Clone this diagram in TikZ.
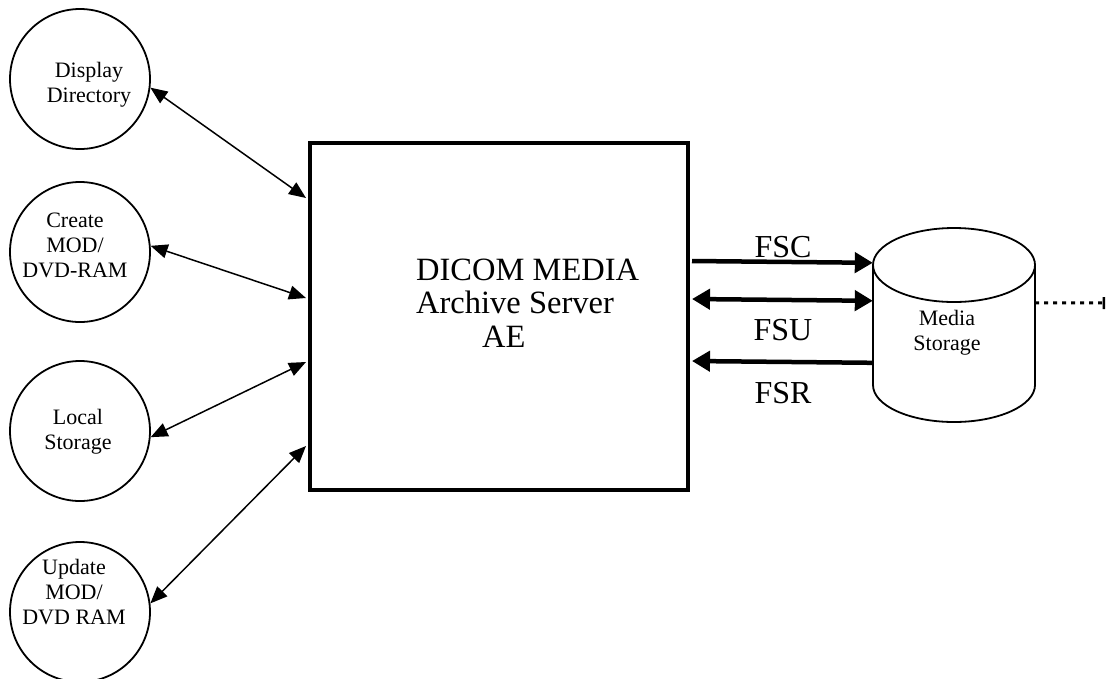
\documentclass[tikz,border=0pt]{standalone}
\usepackage{fontspec}
\setmainfont{Liberation Serif}
\usetikzlibrary{arrows.meta,calc}
\tikzset{
  client/.style={draw,circle,line width=1.8pt,minimum size=140pt,inner sep=0pt},
  ctext/.style={align=center,font=\fontsize{22}{25}\selectfont},
  thinlink/.style={line width=1.5pt,{Triangle[length=17pt,width=14pt]}-{Triangle[length=17pt,width=14pt]}},
  thickarrow/.style={line width=4.5pt,-{Triangle[length=18pt,width=20pt]}},
  thickboth/.style={line width=4.5pt,{Triangle[length=18pt,width=20pt]}-{Triangle[length=18pt,width=20pt]}},
  flabel/.style={font=\fontsize{32}{32}\selectfont,inner sep=0pt},
}
\begin{document}
\begin{tikzpicture}[x=1pt,y=-1pt]
\useasboundingbox (0,0) rectangle (1107,678);
% clients
\node[client,label={[ctext,shift={(9,6)}]center:{Display\\Directory}}] (dd) at (80,79) {};
\node[client,label={[ctext,shift={(-5,-7)}]center:{Create\\MOD/\\DVD-RAM}}] (cm) at (80,252) {};
\node[client,label={[ctext,shift={(-2,1)}]center:{Local\\Storage}}] (ls) at (80,431) {};
\node[client,label={[ctext,shift={(-6,-20)}]center:{Update\\MOD/\\DVD RAM}}] (um) at (80,612) {};
% AE box
\node[draw,line width=4pt,minimum width=378pt,minimum height=347pt,inner sep=0pt] (ae) at (499,316.5) {};
\node[align=left,anchor=west,inner sep=0pt,font=\fontsize{32.5}{33.5}\selectfont] (aetext) at (416,303) {DICOM MEDIA\\Archive Server\\\hspace*{66pt}AE};
% media storage cylinder
\node[minimum width=162pt,minimum height=194pt,inner sep=0pt] (ms) at (954,325) {};
\draw[line width=1.8pt] (954,265) ellipse [x radius=81,y radius=37];
\draw[line width=1.8pt] (873,265) -- (873,385) arc[start angle=180,end angle=360,x radius=81,y radius=-37] -- (1035,265);
\node[ctext] (mstext) at (947,333) {Media\\Storage};
% connectors left
\draw[thinlink] (dd.-7) -- ($(ae.north west)+(-2,57)$);
\draw[thinlink] (cm.5) -- ($(ae.north west)+(-2,157)$);
\draw[thinlink] (ls.-5) -- ($(ae.north west)+(-2,221)$);
\draw[thinlink] (um.7) -- ($(ae.north west)+(-2,305)$);
% connectors right
\draw[thickarrow] ($(ae.north east)+(2,120)$) -- ($(ms.north west)+(0,35)$);
\draw[thickboth] ($(ae.north east)+(2,158)$) -- ($(ms.north west)+(0,73)$);
\draw[thickarrow] ($(ms.north west)+(0,135)$) -- ($(ae.north east)+(2,220)$);
\node[flabel] (fsc) at (783,247) {FSC};
\node[flabel] (fsu) at (783,330) {FSU};
\node[flabel] (fsr) at (783,393) {FSR};
% dotted link
\coordinate (far) at (1105,303);
\draw[line width=3pt,dash pattern=on 4pt off 5pt,-{Bar[width=12pt,line width=2.5pt]}] ($(ms.north east)+(0,75)$) -- (far);
\end{tikzpicture}
\end{document}
